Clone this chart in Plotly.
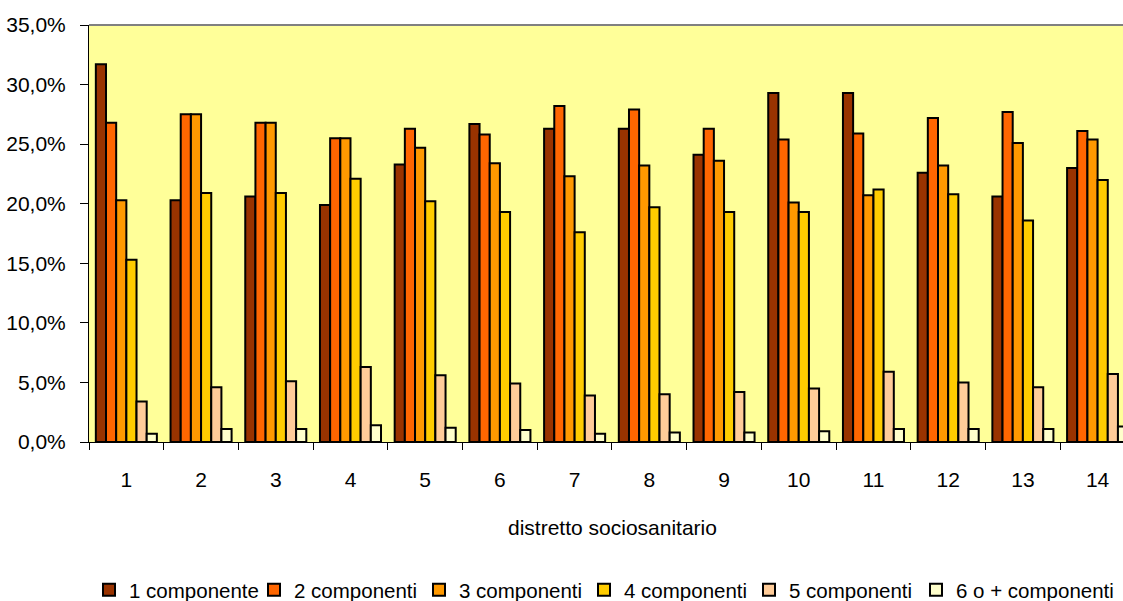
import plotly.graph_objects as go

# Distretti sociosanitari (categorie dell'asse x)
distretti = ["1", "2", "3", "4", "5", "6", "7", "8", "9", "10", "11", "12", "13", "14"]

# Quota di famiglie per numero di componenti (%), per distretto
comp_1 = [31.7, 20.3, 20.6, 19.9, 23.3, 26.7, 26.3, 26.3, 24.1, 29.3, 29.3, 22.6, 20.6, 23.0]
comp_2 = [26.8, 27.5, 26.8, 25.5, 26.3, 25.8, 28.2, 27.9, 26.3, 25.4, 25.9, 27.2, 27.7, 26.1]
comp_3 = [20.3, 27.5, 26.8, 25.5, 24.7, 23.4, 22.3, 23.2, 23.6, 20.1, 20.7, 23.2, 25.1, 25.4]
comp_4 = [15.3, 20.9, 20.9, 22.1, 20.2, 19.3, 17.6, 19.7, 19.3, 19.3, 21.2, 20.8, 18.6, 22.0]
comp_5 = [3.4, 4.6, 5.1, 6.3, 5.6, 4.9, 3.9, 4.0, 4.2, 4.5, 5.9, 5.0, 4.6, 5.7]
comp_6 = [0.7, 1.1, 1.1, 1.4, 1.2, 1.0, 0.7, 0.8, 0.8, 0.9, 1.1, 1.1, 1.1, 1.3]

serie_nomi = ["1 componente", "2 componenti", "3 componenti",
              "4 componenti", "5 componenti", "6 o + componenti"]
serie_valori = [comp_1, comp_2, comp_3, comp_4, comp_5, comp_6]
serie_colori = ["#993300", "#FF6600", "#FF9900", "#FFCC00", "#FFCC99", "#FFFFCC"]

FONT = "Liberation Sans, Arial, sans-serif"
FSIZE = 21

fig = go.Figure()
for i, (nome, valori, colore) in enumerate(zip(serie_nomi, serie_valori, serie_colori)):
    # the last, longest entry gets its own legend box so its label is not clipped
    legenda = "legend2" if i == len(serie_nomi) - 1 else "legend"
    fig.add_trace(go.Bar(
        x=distretti,
        y=valori,
        name=nome,
        legend=legenda,
        marker=dict(color=colore, line=dict(color="#000000", width=2)),
        hoverinfo="x+y+name",
    ))

legend_common = dict(
    orientation="h",
    xanchor="left",
    y=-0.355,
    yanchor="middle",
    bgcolor="rgba(0,0,0,0)",
    font=dict(family=FONT, size=20.5, color="#000000"),
    traceorder="normal",
)

fig.update_layout(
    width=1123,
    height=601,
    barmode="group",
    bargap=0.183,
    bargroupgap=0,
    paper_bgcolor="#FFFFFF",
    plot_bgcolor="#FFFF99",
    separators=",.",
    font=dict(family=FONT, size=FSIZE, color="#000000"),
    margin=dict(l=89, r=0, t=25, b=159, autoexpand=False),
    showlegend=True,
    legend=dict(x=0, entrywidth=120, entrywidthmode="pixels", **legend_common),
    legend2=dict(x=0.7998, **legend_common),
    xaxis=dict(
        type="category",
        range=[-0.5, 13.34],
        showline=True,
        linecolor="#000000",
        linewidth=1,
        ticks="outside",
        tickson="boundaries",
        ticklen=7,
        tickcolor="#000000",
        tickwidth=1,
        ticklabelstandoff=19,
        showgrid=False,
        zeroline=False,
        tickfont=dict(family=FONT, size=FSIZE),
    ),
    yaxis=dict(
        range=[0, 35],
        dtick=5,
        tick0=0,
        tickformat=".1f",
        ticksuffix="%",
        showline=True,
        linecolor="#000000",
        linewidth=1,
        ticks="outside",
        ticklen=8,
        tickcolor="#000000",
        tickwidth=1,
        ticklabelstandoff=10,
        showgrid=False,
        zeroline=False,
        tickfont=dict(family=FONT, size=FSIZE),
    ),
    annotations=[dict(
        text="distretto sociosanitario",
        xref="paper", yref="paper",
        x=0.506, y=-0.204,
        xanchor="center", yanchor="middle",
        showarrow=False,
        font=dict(family=FONT, size=FSIZE, color="#000000"),
    )],
    shapes=[dict(
        type="line", xref="paper", yref="paper",
        x0=0, x1=1, y0=1, y1=1,
        line=dict(color="#808080", width=2),
        layer="above",
    )],
)

fig.write_html("out.html")
